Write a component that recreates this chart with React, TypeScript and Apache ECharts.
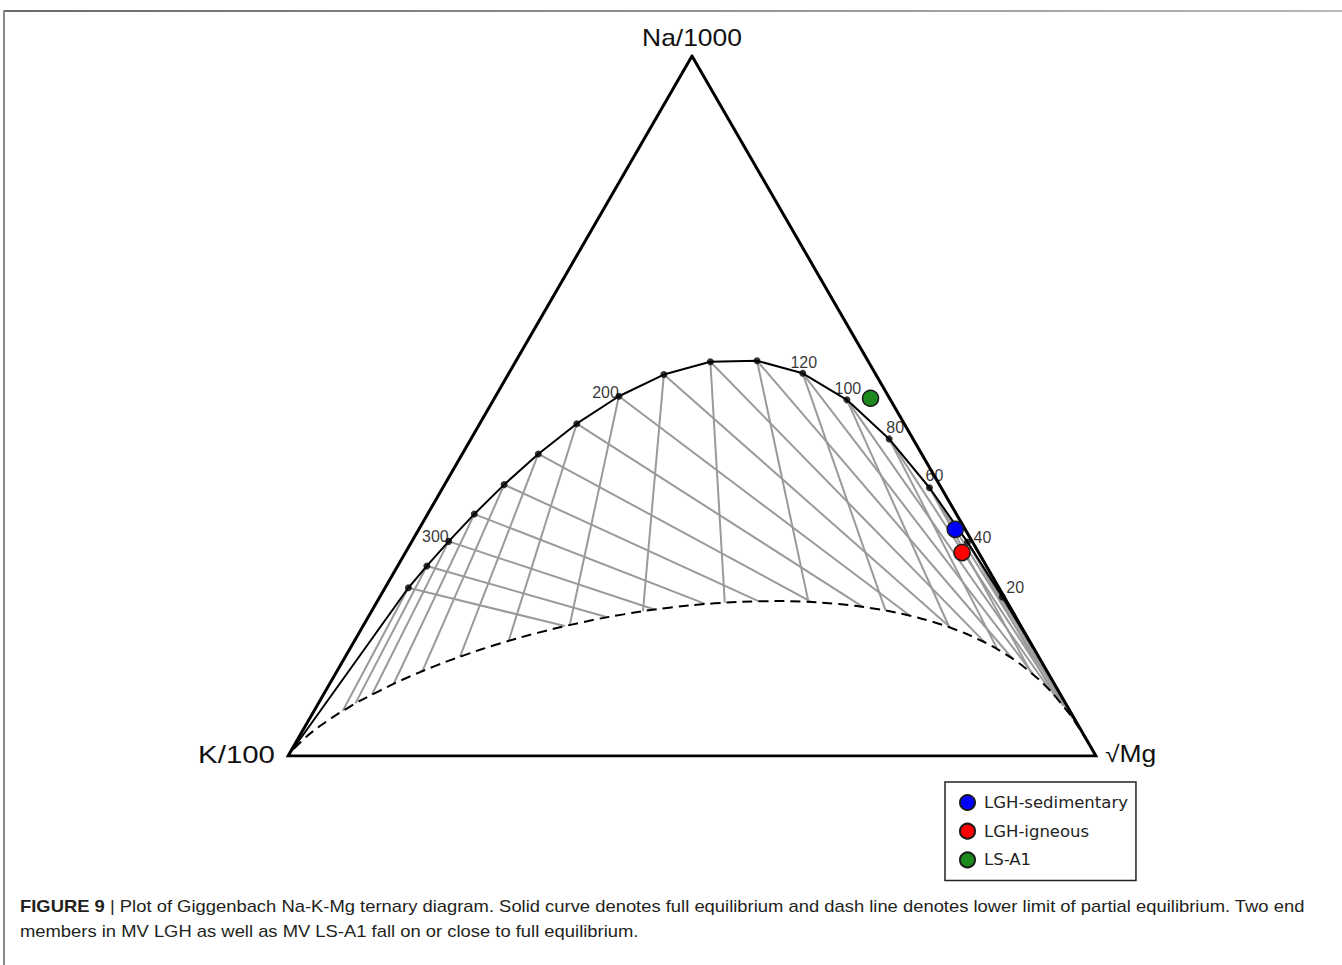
import React, { useEffect, useRef } from "react";
import * as echarts from "echarts";

// Temperatures (°C) marked along the full-equilibrium curve
const temperatures = [20, 40, 60, 80, 100, 120, 140, 160, 180, 200, 220, 240, 260, 280, 300, 320, 340];

// Temperatures that carry a printed label
const labelledTemperatures = [20, 40, 60, 80, 100, 120, 200, 300];

// Full-equilibrium compositions [Na/1000, K/100, √Mg] (fractions) at each temperature above
const fullEquilibrium: number[][] = [
  [0.22728, 0.00232, 0.7704],
  [0.30556, 0.00626, 0.68818],
  [0.38321, 0.01449, 0.60229],
  [0.45299, 0.02952, 0.51749],
  [0.5088, 0.05389, 0.43731],
  [0.54671, 0.08958, 0.36371],
  [0.56465, 0.13721, 0.29814],
  [0.56319, 0.19571, 0.24112],
  [0.54494, 0.26237, 0.19269],
  [0.51393, 0.33353, 0.15253],
  [0.4747, 0.40532, 0.11998],
  [0.43149, 0.47447, 0.09403],
  [0.38769, 0.53867, 0.07364],
  [0.34559, 0.59661, 0.0578],
  [0.30664, 0.6478, 0.04555],
  [0.2715, 0.69237, 0.03613],
  [0.24032, 0.73085, 0.02884],
];

// Ends of the full-equilibrium curve beyond the marked temperatures
const fullEquilibriumLowEnd = [0.15574, 0.00071, 0.84355];
const fullEquilibriumHighEnd = [0, 1, 0];

// Lower limit of partial equilibrium (dashed), from the √Mg corner to the K corner
const partialEquilibrium: number[][] = [
  [0, 0, 1],
  [0.0077, 0.00001, 0.99229],
  [0.01174, 0.00003, 0.98823],
  [0.01787, 0.0001, 0.98203],
  [0.0271, 0.00031, 0.97259],
  [0.04087, 0.00096, 0.95817],
  [0.06113, 0.00296, 0.93591],
  [0.09009, 0.00901, 0.9009],
  [0.1084, 0.01558, 0.87602],
  [0.12923, 0.02669, 0.84408],
  [0.14046, 0.03478, 0.82476],
  [0.15208, 0.04514, 0.80277],
  [0.16391, 0.05832, 0.77777],
  [0.17567, 0.07494, 0.74939],
  [0.18705, 0.09565, 0.7173],
  [0.19761, 0.12114, 0.68124],
  [0.20687, 0.15203, 0.6411],
  [0.21426, 0.18877, 0.59696],
  [0.21925, 0.23158, 0.54917],
  [0.22135, 0.28026, 0.49839],
  [0.22015, 0.33419, 0.44565],
  [0.21554, 0.39223, 0.39223],
  [0.20759, 0.45284, 0.33958],
  [0.19663, 0.51421, 0.28916],
  [0.18324, 0.57449, 0.24226],
  [0.16815, 0.63199, 0.19985],
  [0.15212, 0.68535, 0.16253],
  [0.13584, 0.73368, 0.13047],
  [0.11993, 0.77652, 0.10355],
  [0.10483, 0.81379, 0.08138],
  [0.07824, 0.87269, 0.04908],
  [0.05701, 0.91408, 0.02891],
  [0.04091, 0.94233, 0.01676],
  [0.02903, 0.96136, 0.00961],
  [0.00702, 0.99198, 0.00099],
  [0, 1, 0],
];

// K-Na isotherm ends on the partial-equilibrium limit (same order as temperatures)
const kNaIsothermEnds: number[][] = [
  [0.02548, 0.00026, 0.97426],
  [0.03788, 0.00078, 0.96135],
  [0.05336, 0.00202, 0.94462],
  [0.07181, 0.00468, 0.92351],
  [0.09281, 0.00983, 0.89736],
  [0.11565, 0.01895, 0.8654],
  [0.13928, 0.03385, 0.82688],
  [0.16235, 0.05642, 0.78122],
  [0.18331, 0.08826, 0.72844],
  [0.20068, 0.13024, 0.66908],
  [0.21314, 0.18199, 0.60487],
  [0.21998, 0.24189, 0.53813],
  [0.22116, 0.3073, 0.47154],
  [0.21723, 0.37503, 0.40774],
  [0.20922, 0.442, 0.34877],
  [0.19831, 0.50573, 0.29596],
  [0.18563, 0.56452, 0.24985],
];

// K-Mg isotherm ends on the partial-equilibrium limit (same order as temperatures)
const kMgIsothermEnds: number[][] = [
  [0.06008, 0.00282, 0.9371],
  [0.08731, 0.00822, 0.90447],
  [0.11905, 0.0207, 0.86025],
  [0.15267, 0.04573, 0.80161],
  [0.18397, 0.08953, 0.72651],
  [0.20796, 0.15653, 0.63552],
  [0.22022, 0.24576, 0.53402],
  [0.21924, 0.3498, 0.43096],
  [0.20687, 0.45729, 0.33584],
  [0.18722, 0.55771, 0.25508],
  [0.16452, 0.64466, 0.19082],
  [0.14195, 0.71613, 0.14192],
  [0.12128, 0.77304, 0.10568],
  [0.10324, 0.81755, 0.0792],
  [0.08796, 0.85212, 0.05992],
  [0.07514, 0.87899, 0.04587],
  [0.06454, 0.89995, 0.03551],
];

// Water samples [Na/1000, K/100, √Mg]
const sampleNames = ["LGH-sedimentary", "LGH-igneous", "LS-A1"];
const sampleColors = ["#0000ff", "#ff0000", "#1c8a1c"];
const sampleCompositions: number[][] = [
  [0.3238, 0.0123, 0.6639],
  [0.2906, 0.0205, 0.6889],
  [0.5111, 0.0235, 0.4654],
];

// Corners of the diagram
const corners = { na: [1, 0, 0], k: [0, 1, 0], mg: [0, 0, 1] };

const SQRT3_2 = Math.sqrt(3) / 2;

// Ternary composition -> plane position (K at origin, √Mg at (1,0), Na on top)
function toXY(c: number[]): number[] {
  const s = c[0] + c[1] + c[2];
  const na = c[0] / s;
  const mg = c[2] / s;
  return [mg + na / 2, na * SQRT3_2];
}

// Label placement for the temperature marks
const labelStyle: Record<number, { align: string; offset: number[] }> = {
  20: { align: "left", offset: [4, -9] },
  40: { align: "left", offset: [6, -5] },
  60: { align: "center", offset: [5, -12] },
  80: { align: "center", offset: [6, -11] },
  100: { align: "center", offset: [1, -11] },
  120: { align: "center", offset: [1, -11] },
  200: { align: "right", offset: [0, -4] },
  300: { align: "right", offset: [0, -4.5] },
};

const CAPTION_1 =
  " Plot of Giggenbach Na-K-Mg ternary diagram. Solid curve denotes full equilibrium and dash line denotes lower limit of partial equilibrium. Two end";
const CAPTION_2 = "members in MV LGH as well as MV LS-A1 fall on or close to full equilibrium.";

const FONT = "Liberation Sans";

export default function App() {
  const ref = useRef<HTMLDivElement>(null);

  useEffect(() => {
    if (!ref.current) return;
    const chart = echarts.init(ref.current, undefined, { renderer: "svg" });

    const isothermLines = temperatures.flatMap((t, i) => [
      { coords: [toXY(fullEquilibrium[i]), toXY(kNaIsothermEnds[i])] },
      { coords: [toXY(fullEquilibrium[i]), toXY(kMgIsothermEnds[i])] },
    ]);

    const fullCurve = [fullEquilibriumLowEnd, ...fullEquilibrium, fullEquilibriumHighEnd].map(toXY);

    const tempDots = temperatures.map((t, i) => {
      const item: any = { value: toXY(fullEquilibrium[i]), name: String(t) };
      if (labelledTemperatures.includes(t)) {
        const ls = labelStyle[t];
        item.label = {
          show: true,
          formatter: String(t),
          position: "inside",
          align: ls.align,
          verticalAlign: "middle",
          offset: ls.offset,
          fontFamily: FONT,
          fontSize: 16,
          color: "#000",
        };
      }
      return item;
    });

    const triangle = [corners.k, corners.mg, corners.na, corners.k, corners.mg].map(toXY);

    const sampleSeries = sampleNames.map((name, i) => ({
      name,
      type: "scatter",
      data: [toXY(sampleCompositions[i])],
      symbol: "circle",
      symbolSize: 16,
      itemStyle: { color: sampleColors[i], borderColor: "#1a1a1a", borderWidth: 1.5, opacity: 1 },
      z: 10,
    }));

    const vertexLabel = (text: string, x: number, y: number, align: string, scaleX: number) => ({
      type: "text",
      x,
      y,
      scaleX,
      style: {
        text,
        fontFamily: FONT,
        fontSize: 23,
        fill: "#111",
        align,
        verticalAlign: "middle",
      },
    });

    chart.setOption({
      animation: false,
      backgroundColor: "#ffffff",
      grid: { left: 288, right: 246, top: 56, bottom: 209 },
      xAxis: { type: "value", min: 0, max: 1, show: false },
      yAxis: { type: "value", min: 0, max: SQRT3_2, show: false },
      legend: {
        data: sampleNames,
        orient: "vertical",
        left: 945,
        top: 782,
        icon: "circle",
        itemWidth: 15,
        itemHeight: 15,
        itemGap: 11.7,
        padding: [12, 8, 12, 14],
        borderColor: "#222",
        borderWidth: 1.5,
        backgroundColor: "#fff",
        textStyle: {
          fontFamily: "DejaVu Sans",
          fontSize: 16.5,
          color: "#222",
          padding: [0, 0, 0, 4],
        },
      },
      graphic: [
        {
          type: "rect",
          shape: { x: 3, y: 10, width: 1339, height: 2 },
          style: {
            fill: new echarts.graphic.LinearGradient(0, 0, 1, 0, [
              { offset: 0, color: "#6a6a6a" },
              { offset: 1, color: "#b8b8b8" },
            ]),
          },
          silent: true,
        },
        {
          type: "rect",
          shape: { x: 3, y: 10, width: 2, height: 955 },
          style: { fill: "#8a8a8a" },
          silent: true,
        },
        vertexLabel("Na/1000", 692, 38, "center", 1.15),
        vertexLabel("K/100", 275, 755, "right", 1.28),
        vertexLabel("√Mg", 1105, 754, "left", 1.15),
        {
          type: "text",
          x: 20,
          y: 906,
          scaleX: 1.15,
          style: {
            text: "{b|FIGURE 9} |" + CAPTION_1,
            fontFamily: FONT,
            fontSize: 16,
            fill: "#231f20",
            verticalAlign: "middle",
            rich: {
              b: { fontFamily: FONT, fontSize: 16, fontWeight: "bold", fill: "#231f20" },
            },
          },
        },
        {
          type: "text",
          x: 20,
          y: 931,
          scaleX: 1.15,
          style: {
            text: CAPTION_2,
            fontFamily: FONT,
            fontSize: 16,
            fill: "#231f20",
            verticalAlign: "middle",
          },
        },
      ],
      series: [
        {
          name: "isotherms",
          type: "lines",
          coordinateSystem: "cartesian2d",
          polyline: false,
          silent: true,
          data: isothermLines,
          lineStyle: { color: "#9a9a9a", width: 2, opacity: 1 },
          z: 2,
        },
        {
          name: "partial equilibrium",
          type: "line",
          data: partialEquilibrium.map(toXY),
          symbol: "none",
          smooth: 0.2,
          silent: true,
          lineStyle: { color: "#000", width: 2, type: [10, 6] },
          z: 3,
        },
        {
          name: "full equilibrium",
          type: "line",
          data: fullCurve,
          symbol: "none",
          silent: true,
          lineStyle: { color: "#000", width: 2 },
          z: 4,
        },
        {
          name: "triangle",
          type: "line",
          data: triangle,
          symbol: "none",
          silent: true,
          lineStyle: { color: "#000", width: 3, join: "miter" },
          z: 5,
        },
        {
          name: "temperature marks",
          type: "scatter",
          data: tempDots,
          symbol: "circle",
          symbolSize: 7,
          silent: true,
          itemStyle: { color: "#000" },
          z: 6,
        },
        ...sampleSeries,
      ],
    });

    return () => chart.dispose();
  }, []);

  return (
    <div
      ref={ref}
      style={{ position: "fixed", left: 0, top: 0, width: 1342, height: 965, background: "#fff" }}
    />
  );
}
